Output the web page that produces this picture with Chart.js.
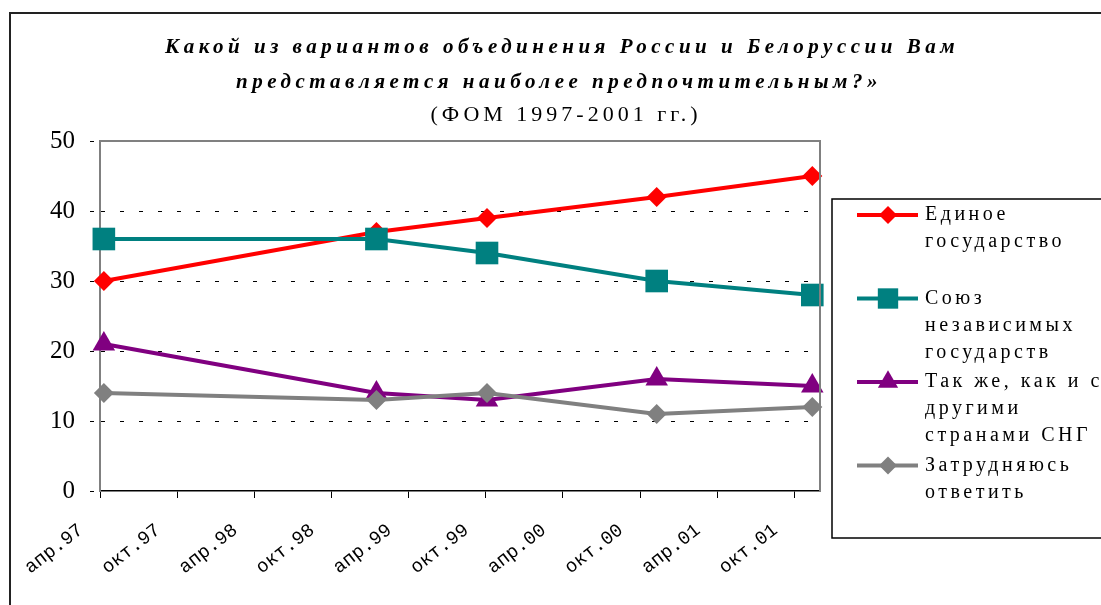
<!DOCTYPE html>
<html>
<head>
<meta charset="utf-8">
<script src="https://cdn.jsdelivr.net/npm/chart.js@4.4.0/dist/chart.umd.min.js"></script>
<style>
  html, body { margin: 0; padding: 0; background: #fff; }
  #wrap { width: 1101px; height: 605px; position: relative; }
</style>
</head>
<body>
<div id="wrap"><canvas id="myChart"></canvas></div>
<script>
  // title text
  const titleLines = [
    'Какой из вариантов объединения России и Белоруссии Вам',
    'представляется наиболее предпочтительным?»'
  ];
  const subTitle = '(ФОМ 1997-2001 гг.)';

  // x axis: half-year tick labels, surveys placed in months after April 1997
  const tickLabels = ['апр.97', 'окт.97', 'апр.98', 'окт.98', 'апр.99', 'окт.99', 'апр.00', 'окт.00', 'апр.01', 'окт.01'];
  const surveyMonths = [0.3, 21.5, 30.1, 43.3, 55.4];

  // series
  const seriesNames = [
    ['Единое', 'государство'],
    ['Союз', 'независимых', 'государств'],
    ['Так же, как и с', 'другими', 'странами СНГ'],
    ['Затрудняюсь', 'ответить']
  ];
  const edinoe = [30, 37, 39, 42, 45];
  const soyuz = [36, 36, 34, 30, 28];
  const takZhe = [21, 14, 13, 16, 15];
  const zatrud = [14, 13, 14, 11, 12];

  const toPoints = vals => vals.map((v, i) => ({x: surveyMonths[i], y: v}));

  const styles = [
    {color: '#FF0000', point: 'rectRot', radius: 10},
    {color: '#008080', point: 'rect', radius: 16},
    {color: '#800080', point: 'triangle', radius: 13},
    {color: '#808080', point: 'rectRot', radius: 10}
  ];
  const allSeries = [edinoe, soyuz, takZhe, zatrud];

  const datasets = allSeries.map((vals, i) => ({
    label: seriesNames[i].join(' '),
    data: toPoints(vals),
    borderColor: styles[i].color,
    backgroundColor: styles[i].color,
    borderWidth: 4,
    pointStyle: styles[i].point,
    pointRadius: styles[i].radius,
    pointBorderWidth: 0,
    pointHoverRadius: styles[i].radius,
    tension: 0,
    clip: false,
    order: 4 - i
  }));

  const sheetPlugin = {
    id: 'sheet',
    beforeDraw(chart) {
      const c = chart.ctx;
      c.save();
      c.strokeStyle = '#222';
      c.lineWidth = 2;
      c.beginPath();
      c.moveTo(10, 605);
      c.lineTo(10, 13);
      c.lineTo(1101, 13);
      c.stroke();
      c.restore();
    },
    afterDraw(chart) {
      const c = chart.ctx;
      const a = chart.chartArea;
      c.save();
      // plot border top / right
      c.strokeStyle = '#808080';
      c.lineWidth = 2;
      c.beginPath();
      c.moveTo(a.left, a.top);
      c.lineTo(a.right, a.top);
      c.lineTo(a.right, a.bottom);
      c.stroke();

      // title
      c.fillStyle = '#000';
      c.textAlign = 'center';
      c.textBaseline = 'middle';
      c.font = 'italic bold 21px "Liberation Serif"';
      c.letterSpacing = '4.5px';
      c.fillText(titleLines[0], 562, 48);
      c.fillText(titleLines[1], 559, 83);
      c.font = '22px "Liberation Serif"';
      c.letterSpacing = '4px';
      c.fillText(subTitle, 566, 115);

      // legend
      c.letterSpacing = '0px';
      c.strokeStyle = '#000';
      c.lineWidth = 1.5;
      c.strokeRect(832, 199, 300, 339);
      styles.forEach((s, i) => {
        const y = 215 + i * 83.5;
        c.strokeStyle = s.color;
        c.fillStyle = s.color;
        c.lineWidth = 4;
        c.beginPath();
        c.moveTo(857, y);
        c.lineTo(918, y);
        c.stroke();
        Chart.helpers.drawPoint(c, {pointStyle: s.point, radius: s.radius * 0.9, rotation: 0, borderWidth: 0}, 888, y);
        c.fillStyle = '#000';
        c.textAlign = 'left';
        c.font = '20px "Liberation Serif"';
        c.letterSpacing = '3.5px';
        seriesNames[i].forEach((t, k) => c.fillText(t, 925, y + k * 27));
        c.letterSpacing = '0px';
      });
      c.restore();
    }
  };

  const ctx = document.getElementById('myChart');

  new Chart(ctx, {
    type: 'line',
    data: {datasets: datasets},
    options: {
      responsive: true,
      maintainAspectRatio: false,
      animation: false,
      layout: {padding: {left: 0, right: 281, top: 141, bottom: 0}},
      plugins: {
        legend: {display: false},
        title: {display: false},
        tooltip: {enabled: false}
      },
      scales: {
        x: {
          type: 'linear',
          min: 0,
          max: 56,
          afterFit: s => { s.height = 114; },
          ticks: {
            stepSize: 6,
            includeBounds: false,
            autoSkip: false,
            minRotation: 38,
            maxRotation: 38,
            padding: 21,
            labelOffset: -19,
            color: '#000',
            font: {family: 'Liberation Mono', size: 19},
            callback: v => tickLabels[Math.round(v / 6)]
          },
          grid: {
            color: c => (c.tick && c.tick.value === 0) ? '#000' : 'rgba(0,0,0,0)',
            tickColor: '#000',
            tickLength: 7,
            lineWidth: 1
          },
          border: {display: true, color: '#000', width: 1.5, dash: [5, 10]}
        },
        y: {
          min: 0,
          max: 50,
          afterFit: s => { s.width = 100; },
          ticks: {
            stepSize: 10,
            padding: 15,
            color: '#000',
            font: {family: 'Liberation Serif', size: 25}
          },
          grid: {
            color: c => (c.tick && c.tick.value > 0 && c.tick.value < 50) ? '#000' : 'rgba(0,0,0,0)',
            tickColor: '#000',
            tickLength: 10,
            tickBorderDash: [4, 20],
            lineWidth: 1
          },
          border: {display: true, color: '#808080', width: 2, dash: [4, 15]}
        }
      }
    },
    plugins: [sheetPlugin]
  });
</script>
</body>
</html>
